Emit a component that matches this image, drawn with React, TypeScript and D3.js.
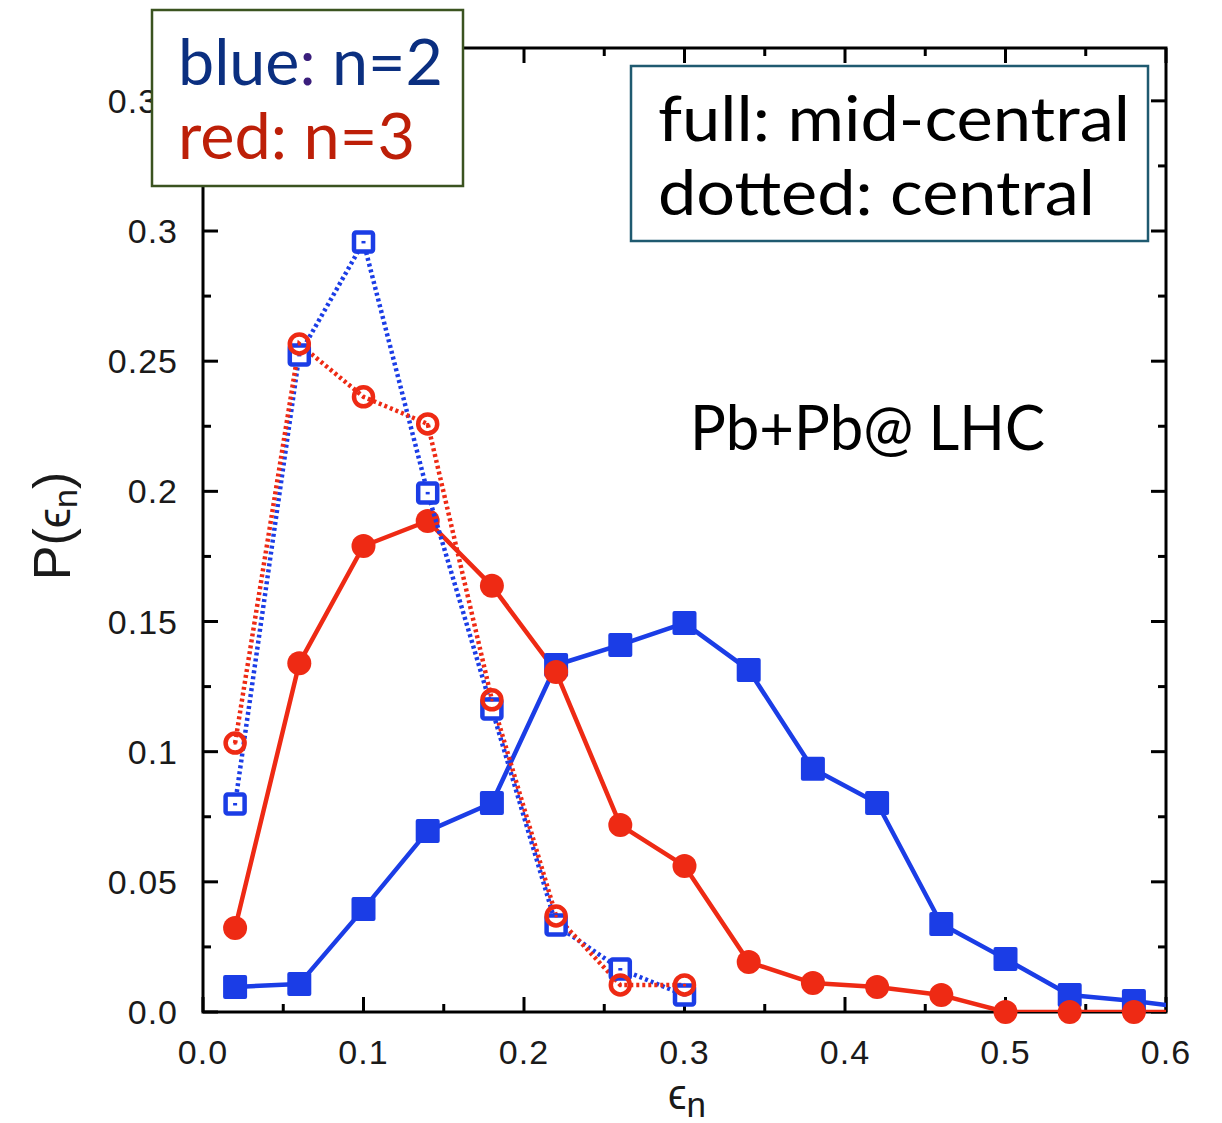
import React from "react";
import * as d3 from "d3";

// ---- data ----
const epsilonMid = [0.02, 0.06, 0.10, 0.14, 0.18, 0.22, 0.26, 0.30, 0.34, 0.38, 0.42, 0.46, 0.50, 0.54, 0.58, 0.62];
const n2MidCentral = [0.0096, 0.0108, 0.0396, 0.0695, 0.0803, 0.1333, 0.141, 0.1494, 0.1314, 0.0934, 0.0803, 0.0338, 0.0204, 0.0065, 0.0042, 0.0012];
const n3MidCentral = [0.0323, 0.134, 0.179, 0.1886, 0.1637, 0.1306, 0.0718, 0.0561, 0.0192, 0.0111, 0.0096, 0.0065, 0.0, 0.0, 0.0, 0.0];
const epsilonCentral = [0.02, 0.06, 0.10, 0.14, 0.18, 0.22, 0.26, 0.30];
const n2Central = [0.0799, 0.2524, 0.2958, 0.1994, 0.1164, 0.0334, 0.0165, 0.0065];
const n3Central = [0.1033, 0.2566, 0.2363, 0.2259, 0.1199, 0.0369, 0.0104, 0.0104];

const xTickValues = [0, 0.1, 0.2, 0.3, 0.4, 0.5, 0.6];
const xTickLabels = ["0.0", "0.1", "0.2", "0.3", "0.4", "0.5", "0.6"];
const xMinorTicks = [0.05, 0.15, 0.25, 0.35, 0.45, 0.55];
const yTickValues = [0, 0.05, 0.1, 0.15, 0.2, 0.25, 0.3, 0.35];
const yTickLabels = ["0.0", "0.05", "0.1", "0.15", "0.2", "0.25", "0.3", "0.35"];
const yMinorTicks = [0.025, 0.075, 0.125, 0.175, 0.225, 0.275, 0.325];

const BLUE = "#1b3de6";
const RED = "#ee2a14";

const left = 203, right = 1166, top = 48, bottom = 1012;

export default function App() {
  const x = d3.scaleLinear().domain([0, 0.6]).range([left, right]);
  const y = d3.scaleLinear().domain([0, 0.3703]).range([bottom, top]);

  const line = d3
    .line<[number, number]>()
    .x((d) => x(d[0]))
    .y((d) => y(d[1]));

  const zip = (xs: number[], ys: number[]) => xs.map((v, i) => [v, ys[i]] as [number, number]);
  const blueFull = zip(epsilonMid, n2MidCentral);
  const redFull = zip(epsilonMid, n3MidCentral);
  const blueDot = zip(epsilonCentral, n2Central);
  const redDot = zip(epsilonCentral, n3Central);
  const vis = (d: [number, number]) => d[0] <= 0.6;

  const tickFont = "'Liberation Sans', Arial, Helvetica, sans-serif";
  const legFont = "Lato, 'Open Sans', sans-serif";

  return (
    <svg width={1222} height={1123} style={{ position: "absolute", left: 0, top: 0, background: "#fff" }}>
      <defs>
        <clipPath id="plotclip">
          <rect x={left} y={top} width={right - left} height={bottom - top} />
        </clipPath>
      </defs>
      <rect x={0} y={0} width={1222} height={1123} fill="#fff" />

      {/* frame */}
      <rect x={left} y={top} width={right - left} height={bottom - top} fill="none" stroke="#000" strokeWidth={3} />

      {/* x ticks */}
      {xTickValues.map((v, i) => (
        <g key={"xt" + i}>
          <line x1={x(v)} x2={x(v)} y1={bottom} y2={bottom - 15} stroke="#000" strokeWidth={3} />
          <line x1={x(v)} x2={x(v)} y1={top} y2={top + 15} stroke="#000" strokeWidth={3} />
          <text x={x(v)} y={1064} textAnchor="middle" fontFamily={tickFont} fontSize={34} letterSpacing={1} fill="#1a1a1a">
            {xTickLabels[i]}
          </text>
        </g>
      ))}
      {xMinorTicks.map((v, i) => (
        <g key={"xm" + i}>
          <line x1={x(v)} x2={x(v)} y1={bottom} y2={bottom - 8} stroke="#000" strokeWidth={3} />
          <line x1={x(v)} x2={x(v)} y1={top} y2={top + 8} stroke="#000" strokeWidth={3} />
        </g>
      ))}
      {/* y ticks */}
      {yTickValues.map((v, i) => (
        <g key={"yt" + i}>
          <line x1={left} x2={left + 15} y1={y(v)} y2={y(v)} stroke="#000" strokeWidth={3} />
          <line x1={right} x2={right - 15} y1={y(v)} y2={y(v)} stroke="#000" strokeWidth={3} />
          <text x={178} y={y(v) + 12} textAnchor="end" fontFamily={tickFont} fontSize={34} letterSpacing={1} fill="#1a1a1a">
            {yTickLabels[i]}
          </text>
        </g>
      ))}
      {yMinorTicks.map((v, i) => (
        <g key={"ym" + i}>
          <line x1={left} x2={left + 8} y1={y(v)} y2={y(v)} stroke="#000" strokeWidth={3} />
          <line x1={right} x2={right - 8} y1={y(v)} y2={y(v)} stroke="#000" strokeWidth={3} />
        </g>
      ))}

      {/* curves */}
      <g clipPath="url(#plotclip)">
        <path d={line(blueFull) || ""} fill="none" stroke={BLUE} strokeWidth={4.5} strokeLinejoin="round" />
        <path d={line(redFull) || ""} fill="none" stroke={RED} strokeWidth={4.5} strokeLinejoin="round" />
      </g>
      {blueFull.filter(vis).map((d, i) => (
        <rect key={"bf" + i} x={x(d[0]) - 12} y={y(d[1]) - 12} width={24} height={24} rx={2} fill={BLUE} />
      ))}
      {redFull.filter(vis).map((d, i) => (
        <circle key={"rf" + i} cx={x(d[0])} cy={y(d[1])} r={12} fill={RED} />
      ))}
      <path d={line(blueDot) || ""} fill="none" stroke={BLUE} strokeWidth={4.5} strokeDasharray="3,3" />
      <path d={line(redDot) || ""} fill="none" stroke={RED} strokeWidth={4.5} strokeDasharray="3,3" />
      {blueDot.map((d, i) => (
        <g key={"bd" + i}>
          <rect x={x(d[0]) - 9.5} y={y(d[1]) - 9.5} width={19} height={19} rx={2} fill="#fff" stroke={BLUE} strokeWidth={4.5} />
          <rect x={x(d[0]) - 2} y={y(d[1]) - 1} width={4} height={2.5} fill={BLUE} />
        </g>
      ))}
      {redDot.map((d, i) => (
        <g key={"rd" + i}>
          <circle cx={x(d[0])} cy={y(d[1])} r={9.5} fill="none" stroke={RED} strokeWidth={4.5} />
          <rect x={x(d[0]) - 1.5} y={y(d[1]) - 1} width={3} height={2.5} fill={RED} />
        </g>
      ))}

      {/* axis titles */}
      <g transform="translate(70,526) rotate(-90)">
        <text textAnchor="middle" fontFamily={tickFont} fontSize={52} fill="#1a1a1a">
          P(<tspan fontSize={46}>ϵ</tspan>
          <tspan fontSize={34} dy={7}>n</tspan>
          <tspan dy={-7}>)</tspan>
        </text>
      </g>
      <text x={687} y={1109} textAnchor="middle" fontFamily={tickFont} fontSize={42} fill="#1a1a1a">
        ϵ<tspan fontSize={35} dy={8}>n</tspan>
      </text>

      {/* annotation */}
      <text x={690} y={450} fontFamily={legFont} fontSize={62} fill="#000" textLength={355} lengthAdjust="spacingAndGlyphs">
        Pb+Pb@ LHC
      </text>

      {/* legend 1 */}
      <rect x={152} y={10} width={311} height={176} fill="#fff" stroke="#3b5320" strokeWidth={2.5} />
      <text x={178} y={85} fontFamily={legFont} fontSize={64} fill="#0b2f80" textLength={265} lengthAdjust="spacingAndGlyphs">
        blue<tspan fill="#3a1e7c">:</tspan> n=2
      </text>
      <text x={178} y={159} fontFamily={legFont} fontSize={64} fill="#bd1f08" textLength={237} lengthAdjust="spacingAndGlyphs">
        red: n=3
      </text>

      {/* legend 2 */}
      <rect x={631} y={66} width={517} height={175} fill="#fff" stroke="#1f5a70" strokeWidth={2.5} />
      <text x={658} y={141} fontFamily={legFont} fontSize={62} fill="#000" textLength={472} lengthAdjust="spacingAndGlyphs">
        full: mid-central
      </text>
      <text x={658} y={215} fontFamily={legFont} fontSize={62} fill="#000" textLength={437} lengthAdjust="spacingAndGlyphs">
        dotted: central
      </text>
    </svg>
  );
}
